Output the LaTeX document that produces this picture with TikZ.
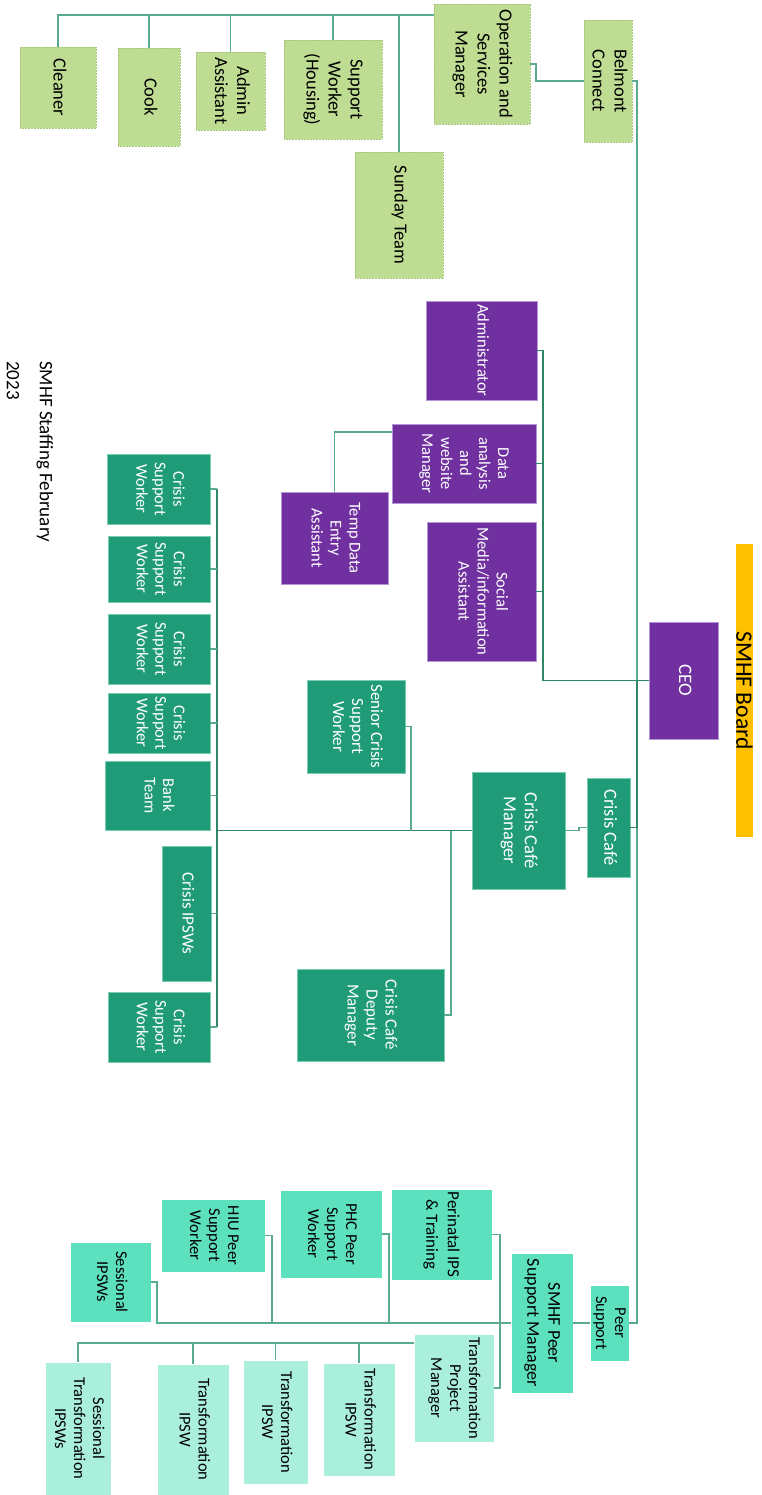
\documentclass[tikz,border=0pt]{standalone}
\usepackage{fontspec}
\setmainfont{Carlito}
\usepackage{graphicx}
\definecolor{gfill}{RGB}{190,220,146}
\definecolor{gline}{RGB}{165,200,120}
\definecolor{pfill}{RGB}{112,48,160}
\definecolor{pline}{RGB}{180,150,215}
\definecolor{tfill}{RGB}{31,155,120}
\definecolor{tline}{RGB}{120,205,175}
\definecolor{mfill}{RGB}{92,224,190}
\definecolor{lfill}{RGB}{170,238,220}
\definecolor{yfill}{RGB}{255,192,0}
\definecolor{conn}{RGB}{90,170,145}
\definecolor{connd}{RGB}{45,135,105}
\newcommand{\vt}[1]{\rotatebox{-90}{\begin{tabular}{@{}c@{}}#1\end{tabular}}}
\begin{document}
\begin{tikzpicture}[x=1pt,y=-1pt,
  box/.style={rectangle, inner sep=0pt, outer sep=0pt},
  wh/.style 2 args={minimum width=#1, minimum height=#2},
  gbox/.style={box, fill=gfill, draw=gline, densely dotted, line width=0.5pt, text=black, font=\fontsize{18.5}{22}\selectfont},
  pbox/.style={box, fill=pfill, draw=pline, line width=0.8pt, text=white, font=\fontsize{16.5}{19}\selectfont},
  tbox/.style={box, fill=tfill, draw=tline, line width=0.6pt, text=white, font=\fontsize{16.5}{18.5}\selectfont},
  mbox/.style={box, fill=mfill, draw=white, line width=0.6pt, text=black, font=\fontsize{16.5}{19}\selectfont},
  lbox/.style={box, fill=lfill, draw=white, line width=0.6pt, text=black, font=\fontsize{16.5}{19}\selectfont},
  cn/.style={draw=conn, line width=1.3pt},
  cnd/.style={draw=connd, line width=1.5pt}
]
\fill[white] (0,0) rectangle (761,1495);
\useasboundingbox (0,0) rectangle (761,1495);

% title
\node[inner sep=0pt, anchor=north, font=\fontsize{19}{33}\selectfont] (title) at (30,361)
  {\rotatebox{-90}{\begin{tabular}{@{}l@{}}SMHF Staffing February\\2023\end{tabular}}};

% board and CEO
\node[box, fill=yfill, wh={17}{293}, font=\fontsize{23.5}{28}\selectfont] (board) at (744.5,690.5) {\rotatebox{-90}{SMHF Board}};
\node[pbox, wh={69}{117}, font=\fontsize{19}{22}\selectfont] (ceo) at (683.5,680.5) {\vt{CEO}};

% green group
\node[gbox, wh={76}{81}] (cleaner) at (58,87.5) {\vt{Cleaner}};
\node[gbox, wh={62}{98}] (cook) at (149,97) {\vt{Cook}};
\node[gbox, wh={69}{78}] (adminA) at (230.5,91) {\vt{Admin\\Assistant}};
\node[gbox, wh={98}{99}] (housing) at (333,89.5) {\vt{Support\\Worker\\(Housing)}};
\node[gbox, wh={96}{120}] (ops) at (482,64) {\vt{Operation and\\Services\\Manager}};
\node[gbox, wh={48}{122}] (belmont) at (608,81) {\vt{Belmont\\Connect}};
\node[gbox, wh={88}{126}] (sunday) at (399,215) {\vt{Sunday Team}};

% purple group
\node[pbox, wh={111}{99}] (admin) at (481.5,350.5) {\vt{Administrator}};
\node[pbox, wh={144}{79}] (data) at (464,463.5) {\vt{Data\\analysis\\and\\website\\Manager}};
\node[pbox, wh={107}{92}] (temp) at (334.5,538) {\vt{Temp Data\\Entry\\Assistant}};
\node[pbox, wh={109}{139}] (social) at (481.5,591.5) {\vt{Social\\Media/information\\Assistant}};

% crisis group
\node[tbox, wh={43}{99}, font=\fontsize{18.5}{21}\selectfont] (cafe) at (608.5,827.5) {\vt{Crisis Café}};
\node[tbox, wh={93}{117}, font=\fontsize{18.5}{21}\selectfont] (cmgr) at (518.5,830.5) {\vt{Crisis Café\\Manager}};
\node[tbox, wh={98}{93}, font=\fontsize{17}{19}\selectfont] (senior) at (356,726.5) {\vt{Senior Crisis\\Support\\Worker}};
\node[tbox, wh={147}{92}, font=\fontsize{17}{19}\selectfont] (deputy) at (370.5,1015) {\vt{Crisis Café\\Deputy\\Manager}};
\node[tbox, wh={103}{70}] (csw1) at (158.5,489) {\vt{Crisis\\Support\\Worker}};
\node[tbox, wh={102}{66}] (csw2) at (159,569) {\vt{Crisis\\Support\\Worker}};
\node[tbox, wh={102}{70}] (csw3) at (159,649) {\vt{Crisis\\Support\\Worker}};
\node[tbox, wh={102}{60}] (csw4) at (159,723) {\vt{Crisis\\Support\\Worker}};
\node[tbox, wh={105}{69}] (bank) at (157.5,795.5) {\vt{Bank\\Team}};
\node[tbox, wh={49}{135}, font=\fontsize{17}{19}\selectfont] (ipsws) at (186.5,913.5) {\vt{Crisis IPSWs}};
\node[tbox, wh={102}{70}] (csw5) at (159,1027) {\vt{Crisis\\Support\\Worker}};

% peer group
\node[mbox, wh={39}{76}] (peer) at (609.5,1323) {\vt{Peer\\Support}};
\node[mbox, wh={62}{140}, font=\fontsize{18}{21}\selectfont] (pmgr) at (542,1323) {\vt{SMHF Peer\\Support Manager}};
\node[mbox, wh={101}{91}, font=\fontsize{17}{21.5}\selectfont] (perinatal) at (441.5,1234.5) {\vt{Perinatal IPS\\\& Training}};
\node[mbox, wh={102}{88}] (phc) at (331,1234) {\vt{PHC Peer\\Support\\Worker}};
\node[mbox, wh={104}{73}] (hiu) at (213,1235.5) {\vt{HIU Peer\\Support\\Worker}};
\node[mbox, wh={81}{80}] (sess) at (110.5,1282) {\vt{Sessional\\IPSWs}};
\node[lbox, wh={80}{108}] (tpm) at (454,1388) {\vt{Transformation\\Project\\Manager}};
\node[lbox, wh={72}{113}] (tip1) at (359,1419.5) {\vt{Transformation\\IPSW}};
\node[lbox, wh={65}{124}] (tip2) at (275.5,1422) {\vt{Transformation\\IPSW}};
\node[lbox, wh={72}{131}] (tip3) at (193,1429.5) {\vt{Transformation\\IPSW}};
\node[lbox, wh={66}{133}] (stip) at (78,1428.5) {\vt{Sessional\\Transformation\\IPSWs}};

% helper coordinates
\coordinate (gb) at (0,15);
\coordinate (bx) at ([xshift=5pt]belmont.east);
\coordinate (pb) at (543,0);
\coordinate (cb) at (217,0);
\coordinate (sx) at (411,0);
\coordinate (dx) at (451,0);
\coordinate (hx) at (272,0);
\coordinate (px) at (389,0);
\coordinate (vx) at (500,0);
\coordinate (tb) at (0,1343);

% green connectors
\draw[cn] (cleaner.north) |- (ops.west |- gb);
\foreach \n in {cook,adminA,housing,sunday} \draw[cn] (\n.north) -- (\n.north |- gb);
\draw[cn] (ops.east) -- ++(6,0) |- (belmont.west);

% main bus
\draw[cn] (belmont.east) -- (bx) -- (bx |- peer.east) -- (peer.east);
\draw[cnd] (ceo.west) -- (pb |- ceo.west) -- (pb |- admin.east) -- (admin.east);
\draw[cnd] (data.east) -- (pb |- data.east);
\draw[cnd] (social.east) -- (pb |- social.east);
\draw[cnd] (bx |- ceo.west) -- (bx |- cafe.east) -- (cafe.east);
\draw[cn] ([yshift=31.5pt]data.west) -| (temp.north);

% crisis connectors
\draw[cn] (cafe.west) -- ++(-8,0) |- (cmgr.east);
\draw[cnd] (cmgr.west) -- (cb |- cmgr.west);
\draw[cnd] (cb |- csw1.east) -- (cb |- csw5.east);
\foreach \n in {csw1,csw2,csw3,csw4,bank,ipsws,csw5} \draw[cn] (\n.east) -- (cb |- \n.east);
\draw[cn] (senior.east) -| (sx |- cmgr.west);
\draw[cn] (deputy.east) -| (dx |- cmgr.west);

% peer connectors
\draw[cn] (peer.west) -- (pmgr.east);
\draw[cn] (pmgr.west) -| ([xshift=6pt]sess.east) -- (sess.east);
\draw[cn] (hiu.east) -| (hx |- pmgr.west);
\draw[cn] (phc.east) -| (px |- pmgr.west);
\draw[cn] (perinatal.east) -| (vx |- pmgr.west);
\draw[cn] (tpm.east) -| (vx |- pmgr.west);
\draw[cn] (tpm.west |- tb) -| (stip.north);
\foreach \n in {tip1,tip2,tip3} \draw[cn] (\n.north) -- (\n.north |- tb);
\end{tikzpicture}
\end{document}
